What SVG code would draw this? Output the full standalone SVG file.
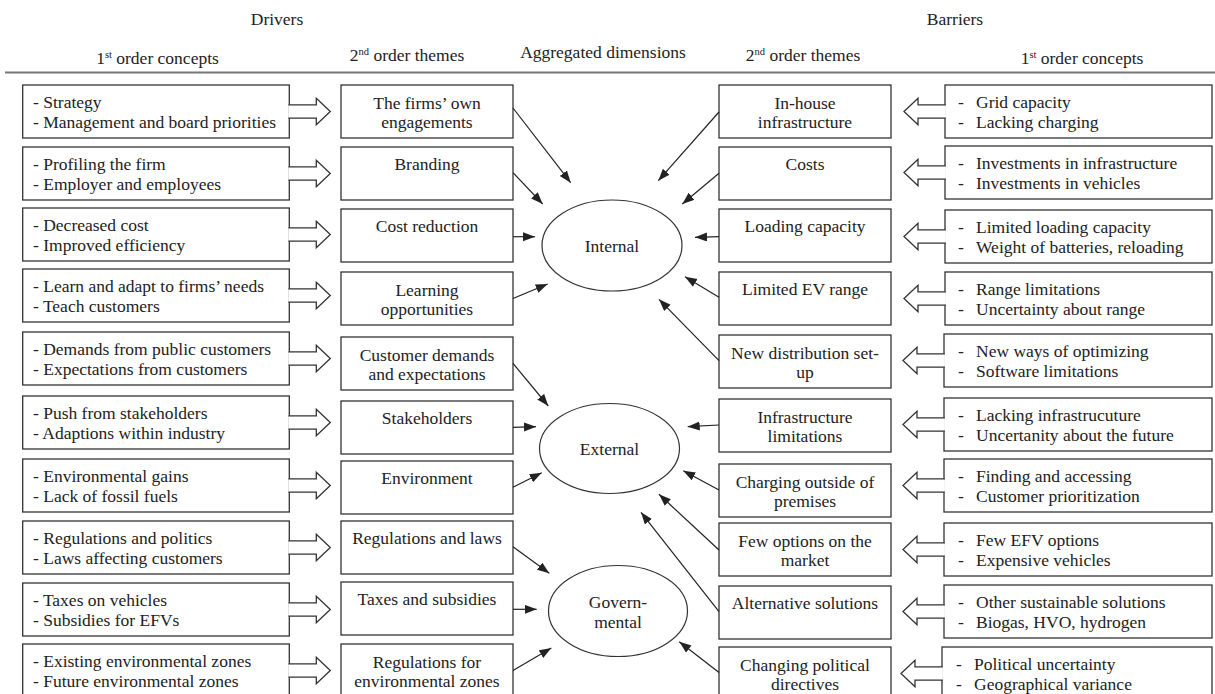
<svg xmlns="http://www.w3.org/2000/svg" width="1215" height="694" viewBox="0 0 1215 694">
<style>
text{font-family:"Liberation Serif","Times New Roman",serif;font-size:17.5px;fill:#222}
.box{fill:#fff;stroke:#333;stroke-width:1.3}
.ell{fill:#fff;stroke:#333;stroke-width:1.2}
.c{text-anchor:middle}
.ha{fill:#fff;stroke:#333;stroke-width:1.3}
.con line{stroke:#222;stroke-width:1.2;marker-end:url(#ah)}
</style>
<defs>
<marker id="ah" markerUnits="userSpaceOnUse" markerWidth="13" markerHeight="10" refX="12" refY="4.5" orient="auto">
<path d="M0,0 L12,4.5 L0,9 z" fill="#222"/>
</marker>
<path id="hr" class="ha" d="M-0.9,-6.7 H27 V-13.3 L41,0 L27,13.3 V6.7 H-0.9"/>
<path id="hl" class="ha" d="M0.9,-6.7 H-27 V-13.3 L-41,0 L-27,13.3 V6.7 H0.9"/>
</defs>
<rect width="1215" height="694" fill="#fff"/>
<g id="headers">
<text class="c" x="277" y="25">Drivers</text>
<text class="c" x="955" y="25">Barriers</text>
<text class="c" x="157.5" y="64">1<tspan font-size="10.5" dy="-6">st</tspan><tspan dy="6"> order concepts</tspan></text>
<text class="c" x="407" y="61">2<tspan font-size="10.5" dy="-6">nd</tspan><tspan dy="6"> order themes</tspan></text>
<text class="c" x="603" y="58">Aggregated dimensions</text>
<text class="c" x="803" y="61">2<tspan font-size="10.5" dy="-6">nd</tspan><tspan dy="6"> order themes</tspan></text>
<text class="c" x="1082" y="64">1<tspan font-size="10.5" dy="-6">st</tspan><tspan dy="6"> order concepts</tspan></text>
<line x1="5" y1="72.5" x2="1215" y2="72.5" stroke="#777" stroke-width="2"/>
</g>
<g id="left-concepts">
<g id="lc1"><rect class="box" x="22.7" y="85" width="266.6" height="53"/><text x="33" y="108">- Strategy</text><text x="33" y="128">- Management and board priorities</text><use href="#hr" x="289.3" y="111.5"/></g>
<g id="lc2"><rect class="box" x="22.7" y="147" width="266.6" height="53"/><text x="33" y="170">- Profiling the firm</text><text x="33" y="190">- Employer and employees</text><use href="#hr" x="289.3" y="173.5"/></g>
<g id="lc3"><rect class="box" x="22.7" y="208" width="266.6" height="53"/><text x="33" y="231">- Decreased cost</text><text x="33" y="251">- Improved efficiency</text><use href="#hr" x="289.3" y="234.5"/></g>
<g id="lc4"><rect class="box" x="22.7" y="269" width="266.6" height="53"/><text x="33" y="292">- Learn and adapt to firms’ needs</text><text x="33" y="312">- Teach customers</text><use href="#hr" x="289.3" y="295.5"/></g>
<g id="lc5"><rect class="box" x="22.7" y="332" width="266.6" height="53"/><text x="33" y="355">- Demands from public customers</text><text x="33" y="375">- Expectations from customers</text><use href="#hr" x="289.3" y="358.5"/></g>
<g id="lc6"><rect class="box" x="22.7" y="396" width="266.6" height="53"/><text x="33" y="419">- Push from stakeholders</text><text x="33" y="439">- Adaptions within industry</text><use href="#hr" x="289.3" y="422.5"/></g>
<g id="lc7"><rect class="box" x="22.7" y="459" width="266.6" height="53"/><text x="33" y="482">- Environmental gains</text><text x="33" y="502">- Lack of fossil fuels</text><use href="#hr" x="289.3" y="485.5"/></g>
<g id="lc8"><rect class="box" x="22.7" y="521" width="266.6" height="53"/><text x="33" y="544">- Regulations and politics</text><text x="33" y="564">- Laws affecting customers</text><use href="#hr" x="289.3" y="547.5"/></g>
<g id="lc9"><rect class="box" x="22.7" y="583" width="266.6" height="53"/><text x="33" y="606">- Taxes on vehicles</text><text x="33" y="626">- Subsidies for EFVs</text><use href="#hr" x="289.3" y="609.5"/></g>
<g id="lc10"><rect class="box" x="22.7" y="644" width="266.6" height="53"/><text x="33" y="667">- Existing environmental zones</text><text x="33" y="687">- Future environmental zones</text><use href="#hr" x="289.3" y="670.5"/></g>
</g>
<g id="left-themes">
<g id="lt1"><rect class="box" x="341" y="85" width="172" height="53"/><text class="c" x="427" y="109">The firms’ own</text><text class="c" x="427" y="128">engagements</text></g>
<g id="lt2"><rect class="box" x="341" y="147" width="172" height="53"/><text class="c" x="427" y="170">Branding</text></g>
<g id="lt3"><rect class="box" x="341" y="209" width="172" height="53"/><text class="c" x="427" y="232">Cost reduction</text></g>
<g id="lt4"><rect class="box" x="341" y="272" width="172" height="53"/><text class="c" x="427" y="296">Learning</text><text class="c" x="427" y="315">opportunities</text></g>
<g id="lt5"><rect class="box" x="341" y="337" width="172" height="53"/><text class="c" x="427" y="361">Customer demands</text><text class="c" x="427" y="380">and expectations</text></g>
<g id="lt6"><rect class="box" x="341" y="401" width="172" height="53"/><text class="c" x="427" y="424">Stakeholders</text></g>
<g id="lt7"><rect class="box" x="341" y="461" width="172" height="53"/><text class="c" x="427" y="484">Environment</text></g>
<g id="lt8"><rect class="box" x="341" y="521" width="172" height="53"/><text class="c" x="427" y="544">Regulations and laws</text></g>
<g id="lt9"><rect class="box" x="341" y="582" width="172" height="53"/><text class="c" x="427" y="605">Taxes and subsidies</text></g>
<g id="lt10"><rect class="box" x="341" y="644" width="172" height="53"/><text class="c" x="427" y="668">Regulations for</text><text class="c" x="427" y="687">environmental zones</text></g>
</g>
<g id="dimensions">
<g id="internal"><ellipse class="ell" cx="612" cy="245.5" rx="70" ry="45.5"/><text class="c" x="612" y="251.5">Internal</text></g>
<g id="external"><ellipse class="ell" cx="609.5" cy="448.5" rx="70" ry="45"/><text class="c" x="609.5" y="455">External</text></g>
<g id="governmental"><ellipse class="ell" cx="618" cy="611" rx="69.5" ry="45.5"/><text class="c" x="618" y="607.5">Govern-</text><text class="c" x="618" y="627.5">mental</text></g>
</g>
<g id="right-themes">
<g id="rt1"><rect class="box" x="719" y="85" width="172" height="53"/><text class="c" x="805" y="109">In-house</text><text class="c" x="805" y="128">infrastructure</text></g>
<g id="rt2"><rect class="box" x="719" y="147" width="172" height="53"/><text class="c" x="805" y="170">Costs</text></g>
<g id="rt3"><rect class="box" x="719" y="209" width="172" height="53"/><text class="c" x="805" y="232">Loading capacity</text></g>
<g id="rt4"><rect class="box" x="719" y="272" width="172" height="53"/><text class="c" x="805" y="295">Limited EV range</text></g>
<g id="rt5"><rect class="box" x="719" y="335" width="172" height="53"/><text class="c" x="805" y="359">New distribution set-</text><text class="c" x="805" y="378">up</text></g>
<g id="rt6"><rect class="box" x="719" y="399" width="172" height="53"/><text class="c" x="805" y="423">Infrastructure</text><text class="c" x="805" y="442">limitations</text></g>
<g id="rt7"><rect class="box" x="719" y="464" width="172" height="53"/><text class="c" x="805" y="488">Charging outside of</text><text class="c" x="805" y="507">premises</text></g>
<g id="rt8"><rect class="box" x="719" y="523" width="172" height="53"/><text class="c" x="805" y="547">Few options on the</text><text class="c" x="805" y="566">market</text></g>
<g id="rt9"><rect class="box" x="719" y="586" width="172" height="53"/><text class="c" x="805" y="609">Alternative solutions</text></g>
<g id="rt10"><rect class="box" x="719" y="647" width="172" height="53"/><text class="c" x="805" y="671">Changing political</text><text class="c" x="805" y="690">directives</text></g>
</g>
<g id="right-concepts">
<g id="rc1"><rect class="box" x="945" y="85" width="267" height="53"/><text x="958" y="108">-</text><text x="976" y="108">Grid capacity</text><text x="958" y="128">-</text><text x="976" y="128">Lacking charging</text><use href="#hl" x="945" y="111.5"/></g>
<g id="rc2"><rect class="box" x="945" y="146" width="267" height="53"/><text x="958" y="169">-</text><text x="976" y="169">Investments in infrastructure</text><text x="958" y="189">-</text><text x="976" y="189">Investments in vehicles</text><use href="#hl" x="945" y="172.5"/></g>
<g id="rc3"><rect class="box" x="945" y="210" width="267" height="53"/><text x="958" y="233">-</text><text x="976" y="233">Limited loading capacity</text><text x="958" y="253">-</text><text x="976" y="253">Weight of batteries, reloading</text><use href="#hl" x="945" y="236.5"/></g>
<g id="rc4"><rect class="box" x="945" y="272" width="267" height="53"/><text x="958" y="295">-</text><text x="976" y="295">Range limitations</text><text x="958" y="315">-</text><text x="976" y="315">Uncertainty about range</text><use href="#hl" x="945" y="298.5"/></g>
<g id="rc5"><rect class="box" x="944" y="334" width="268" height="53"/><text x="958" y="357">-</text><text x="976" y="357">New ways of optimizing</text><text x="958" y="377">-</text><text x="976" y="377">Software limitations</text><use href="#hl" x="944" y="360.5"/></g>
<g id="rc6"><rect class="box" x="944" y="398" width="268" height="53"/><text x="958" y="421">-</text><text x="976" y="421">Lacking infrastrucuture</text><text x="958" y="441">-</text><text x="976" y="441">Uncertanity about the future</text><use href="#hl" x="944" y="424.5"/></g>
<g id="rc7"><rect class="box" x="944" y="459" width="268" height="53"/><text x="958" y="482">-</text><text x="976" y="482">Finding and accessing</text><text x="958" y="502">-</text><text x="976" y="502">Customer prioritization</text><use href="#hl" x="944" y="485.5"/></g>
<g id="rc8"><rect class="box" x="944" y="523" width="268" height="53"/><text x="958" y="546">-</text><text x="976" y="546">Few EFV options</text><text x="958" y="566">-</text><text x="976" y="566">Expensive vehicles</text><use href="#hl" x="944" y="549.5"/></g>
<g id="rc9"><rect class="box" x="944" y="585" width="268" height="53"/><text x="958" y="608">-</text><text x="976" y="608">Other sustainable solutions</text><text x="958" y="628">-</text><text x="976" y="628">Biogas, HVO, hydrogen</text><use href="#hl" x="944" y="611.5"/></g>
<g id="rc10"><rect class="box" x="942" y="647" width="270" height="53"/><text x="956" y="670">-</text><text x="974" y="670">Political uncertainty</text><text x="956" y="690">-</text><text x="974" y="690">Geographical variance</text><use href="#hl" x="942" y="673.5"/></g>
</g>
<g id="connectors" class="con">
<line x1="513" y1="108" x2="570.7" y2="182.7"/>
<line x1="513" y1="172.7" x2="542.7" y2="204"/>
<line x1="513" y1="236.7" x2="535" y2="236.7"/>
<line x1="513" y1="298.5" x2="547.7" y2="284"/>
<line x1="513" y1="363.3" x2="548.3" y2="406"/>
<line x1="513" y1="427.3" x2="536" y2="426.7"/>
<line x1="513" y1="487.3" x2="541.7" y2="472.7"/>
<line x1="513" y1="546.7" x2="549.3" y2="573.3"/>
<line x1="513" y1="609.3" x2="536.7" y2="609.3"/>
<line x1="513" y1="670.5" x2="551.3" y2="648"/>
<line x1="719" y1="112" x2="658.3" y2="180.7"/>
<line x1="719" y1="173.3" x2="682.3" y2="204"/>
<line x1="719" y1="236.7" x2="695" y2="237.3"/>
<line x1="719" y1="297.3" x2="685" y2="276.7"/>
<line x1="719" y1="360.7" x2="659" y2="299.3"/>
<line x1="719" y1="425" x2="687.7" y2="426.7"/>
<line x1="719" y1="490" x2="683.3" y2="470.7"/>
<line x1="719" y1="550" x2="659" y2="494.3"/>
<line x1="719" y1="611.7" x2="641" y2="512.3"/>
<line x1="719" y1="672.5" x2="679.3" y2="641.7"/>
</g>
</svg>
